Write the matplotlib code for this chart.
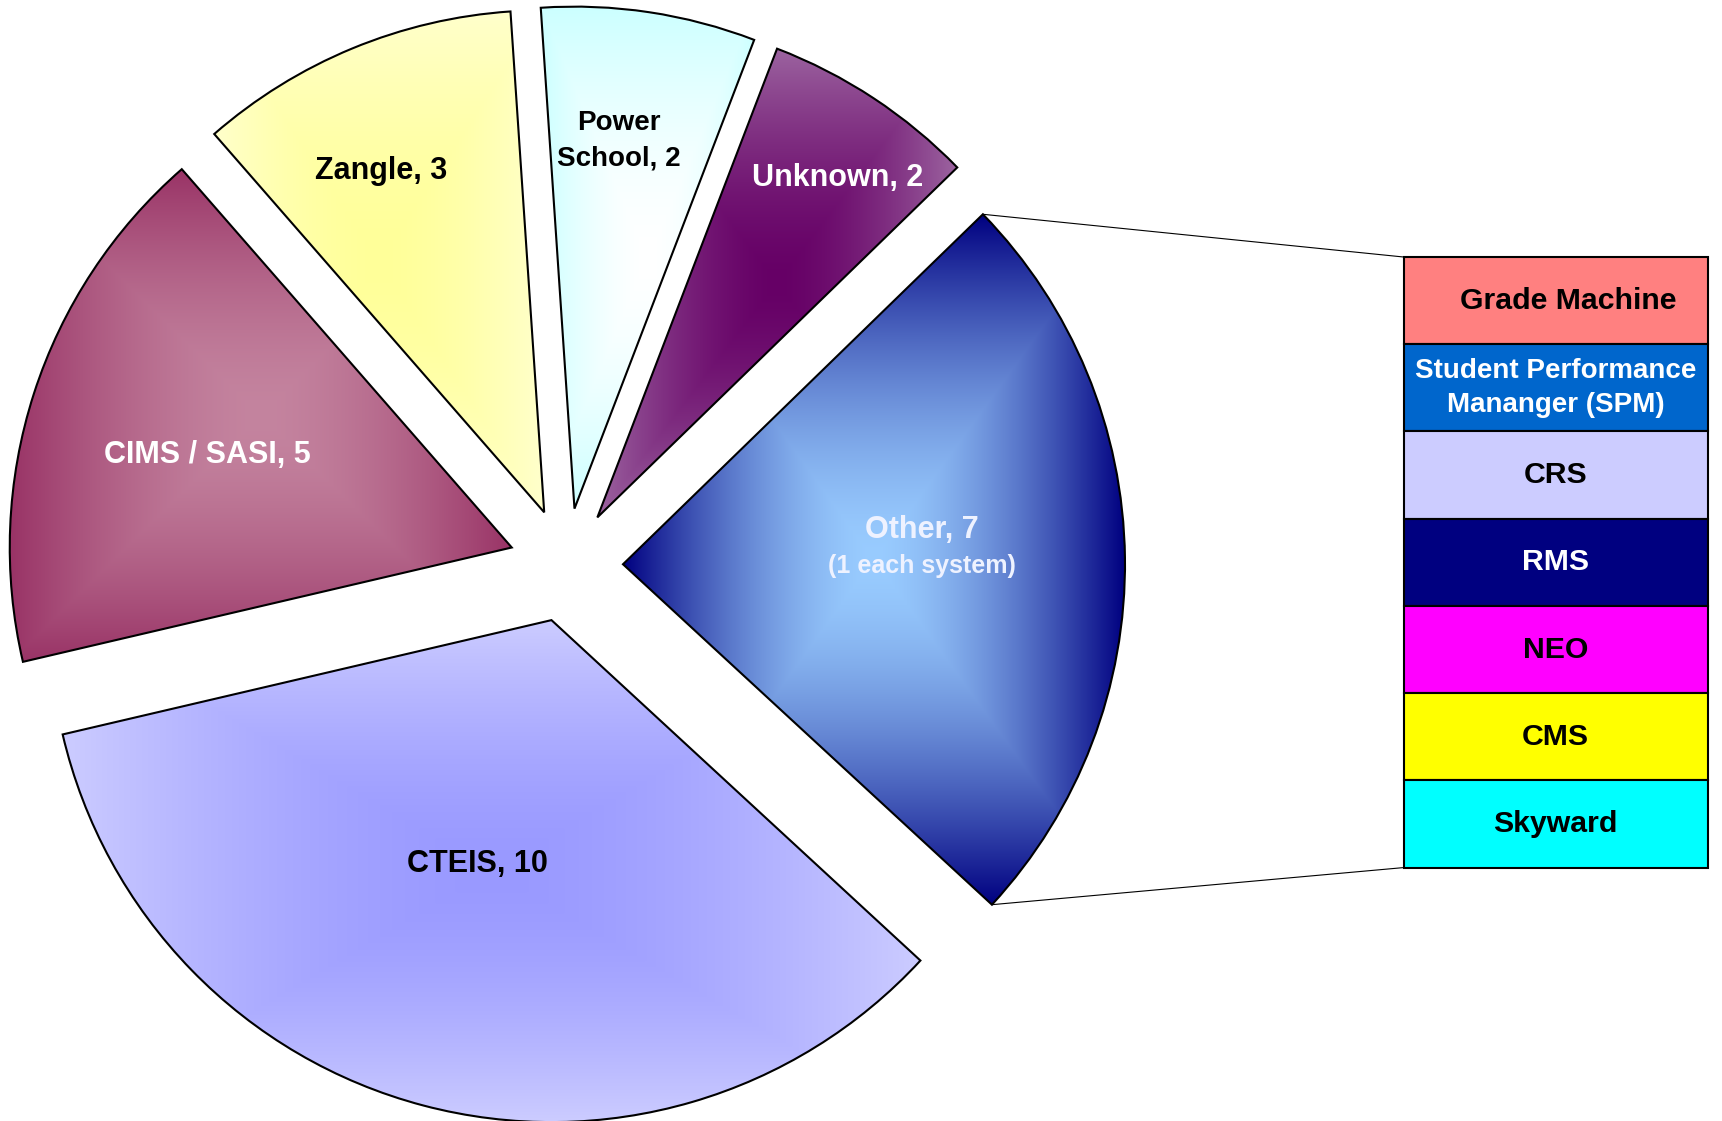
import numpy as np
import matplotlib
matplotlib.use("Agg")
import matplotlib.pyplot as plt
from matplotlib.colors import to_rgb
from matplotlib.patches import ConnectionPatch

W, H = 1722, 1121
DPI = 100

# pie slices, counterclockwise starting from "Other"
PIE_LABELS = ["Other", "Unknown", "Power\nSchool", "Zangle", "CIMS / SASI", "CTEIS"]
PIE_VALUES = [7, 2, 2, 3, 5, 10]
PIE_CENTER_COLORS = ["#99CCFF", "#660066", "#FFFFFF", "#FFFF99", "#C4849F", "#9999FF"]
PIE_EDGE_COLORS = ["#000080", "#9C64A0", "#CCFFFF", "#FFFFCC", "#993366", "#CCCCFF"]
PIE_TEXT_COLORS = ["#EEF2FF", "white", "black", "black", "white", "black"]
OTHER_NOTE = "(1 each system)"

# breakdown of "Other", top to bottom
BAR_LABELS = ["Grade Machine", "Student Performance\nMananger (SPM)", "CRS", "RMS",
              "NEO", "CMS", "Skyward"]
BAR_VALUES = [1, 1, 1, 1, 1, 1, 1]
BAR_COLORS = ["#FF8080", "#0066CC", "#CCCCFF", "#000080", "#FF00FF", "#FFFF00", "#00FFFF"]
BAR_TEXT_COLORS = ["black", "white", "black", "white", "black", "black", "black"]

# layout (pixels)
CX, CY, R, EXPLODE = 566, 556, 502, 57
ROTATE = 0.75
BAR_BOX = (1403.5, 253.4, 304.2, 610.6)
# label placement: (fraction of radius from slice tip, angle tweak in degrees)
LABEL_LAYOUT = [(0.60, 6.7), (0.83, -1.1), (0.74, 2.5), (0.756, 3.7), (0.635, 1.6), (0.506, -1.5)]
LABEL_SIZES = [22, 22, 20, 22, 22, 22]
GAMMA = 1.6

plt.rcParams["font.family"] = ["Liberation Sans", "DejaVu Sans"]
plt.rcParams["font.weight"] = "bold"

fig = plt.figure(figsize=(W / DPI, H / DPI), dpi=DPI)
ax = fig.add_axes([0, 0, 1, 1])

total = sum(PIE_VALUES)
start = -180.0 * PIE_VALUES[0] / total + ROTATE
wedges, _ = ax.pie(PIE_VALUES, explode=[EXPLODE] * len(PIE_VALUES), startangle=start,
                   counterclock=True, radius=R, center=(CX, CY),
                   colors=["none"] * len(PIE_VALUES),
                   wedgeprops=dict(edgecolor="black", linewidth=1.5, zorder=2))


def box_gradient(c_center, c_edge, n=400):
    u = np.linspace(-1, 1, n)
    U, V = np.meshgrid(u, u)
    t = (np.maximum(np.abs(U), np.abs(V)) ** GAMMA)[..., None]
    return (1 - t) * np.array(to_rgb(c_center)) + t * np.array(to_rgb(c_edge))


for w, cc, ce in zip(wedges, PIE_CENTER_COLORS, PIE_EDGE_COLORS):
    ext = w.get_path().get_extents()
    im = ax.imshow(box_gradient(cc, ce), extent=[ext.x0, ext.x1, ext.y0, ext.y1],
                   origin="lower", interpolation="bilinear", zorder=1, aspect="auto")
    im.set_clip_path(w)

for i, (w, lab, val) in enumerate(zip(wedges, PIE_LABELS, PIE_VALUES)):
    frac, dth = LABEL_LAYOUT[i]
    th = np.deg2rad((w.theta1 + w.theta2) / 2 + dth - ROTATE)
    x = w.center[0] + frac * R * np.cos(th)
    y = w.center[1] + frac * R * np.sin(th) - 1
    ax.text(x, y, f"{lab}, {val}", ha="center", va="center", fontsize=LABEL_SIZES[i],
            color=PIE_TEXT_COLORS[i], linespacing=1.45, zorder=3)
    if i == 0:
        ax.text(x, y - 36, OTHER_NOTE, ha="center", va="center", fontsize=18,
                color=PIE_TEXT_COLORS[i], zorder=3)

ax.set_xlim(0, W)
ax.set_ylim(0, H)
ax.set_aspect("equal")
ax.axis("off")

# bar of "Other"
bax = fig.add_axes([BAR_BOX[0] / W, BAR_BOX[1] / H, BAR_BOX[2] / W, BAR_BOX[3] / H])
tops = sum(BAR_VALUES) - np.cumsum(BAR_VALUES)
bars = bax.bar(0.5, BAR_VALUES, bottom=tops, width=1.0, color=BAR_COLORS,
               edgecolor="black", linewidth=1.5)
for b in bars:
    b.set_clip_on(False)
for lab, b0, v, tc in zip(BAR_LABELS, tops, BAR_VALUES, BAR_TEXT_COLORS):
    fs = 20 if "\n" in lab else 21.8
    xo = 0.04 if lab == "Grade Machine" else 0.0
    bax.text(0.5 + xo, b0 + v / 2, lab, ha="center", va="center", fontsize=fs, color=tc,
             linespacing=1.4)
bax.set_xlim(0, 1)
bax.set_ylim(0, sum(BAR_VALUES))
bax.axis("off")

# connector lines from "Other" slice to the bar
ow = wedges[0]
for ang, ybar in ((ow.theta2, sum(BAR_VALUES)), (ow.theta1, 0)):
    a = np.deg2rad(ang)
    p = (ow.center[0] + R * np.cos(a), ow.center[1] + R * np.sin(a))
    con = ConnectionPatch(xyA=p, coordsA=ax.transData, xyB=(0, ybar), coordsB=bax.transData,
                          color="black", linewidth=0.8)
    fig.add_artist(con)

fig.savefig("out.png", dpi=DPI)
